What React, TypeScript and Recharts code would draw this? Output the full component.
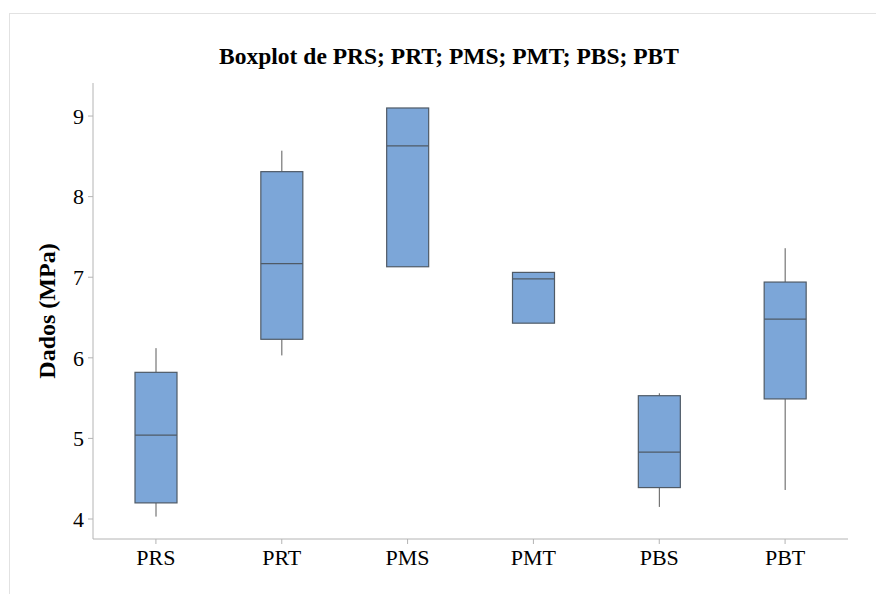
import { Bar, ComposedChart, XAxis, YAxis } from "recharts";

const categories = ["PRS", "PRT", "PMS", "PMT", "PBS", "PBT"];
const minValues = [4.03, 6.03, 7.13, 6.43, 4.15, 4.36];
const q1Values = [4.2, 6.23, 7.13, 6.43, 4.39, 5.49];
const medianValues = [5.04, 7.17, 8.63, 6.98, 4.83, 6.48];
const q3Values = [5.82, 8.31, 9.1, 7.06, 5.53, 6.94];
const maxValues = [6.12, 8.57, 9.1, 7.06, 5.56, 7.36];
const yTicks = [4, 5, 6, 7, 8, 9];

const data = categories.map((name, i) => ({
  name,
  min: minValues[i],
  q1: q1Values[i],
  median: medianValues[i],
  q3: q3Values[i],
  max: maxValues[i],
}));

const FONT = "'Liberation Serif', 'Times New Roman', serif";
const FRAME = "#b4b4b4";

const BoxShape = (props: any) => {
  const { x, y, width, height, payload } = props;
  const top = Math.min(y, y + height);
  const h = Math.abs(height);
  const ppu = h / (payload.q3 - payload.q1 || 1);
  const cx = x + width / 2;
  const yMax = top - (payload.max - payload.q3) * ppu;
  const yMin = top + h + (payload.q1 - payload.min) * ppu;
  const yMed = top + (payload.q3 - payload.median) * ppu;
  return (
    <g>
      <line x1={cx} x2={cx} y1={yMax} y2={top} stroke="#5a5a5a" strokeWidth={1} />
      <line x1={cx} x2={cx} y1={top + h} y2={yMin} stroke="#5a5a5a" strokeWidth={1} />
      <rect x={x} y={top} width={width} height={h} fill="#7ca6d8" stroke="#4f5a66" strokeWidth={1.2} />
      <line x1={x} x2={x + width} y1={yMed} y2={yMed} stroke="#4f5a66" strokeWidth={1.2} />
    </g>
  );
};

export default function App() {
  return (
    <div style={{ position: "absolute", left: 0, top: 0, width: 876, height: 594, background: "#fff" }}>
      <div
        style={{
          position: "absolute",
          left: 9,
          top: 13,
          right: 0,
          bottom: 0,
          borderTop: "1px solid #e2e2e2",
          borderLeft: "1px solid #e2e2e2",
        }}
      />
      <div
        style={{
          position: "absolute",
          left: 0,
          width: 898,
          top: 41,
          textAlign: "center",
          fontFamily: FONT,
          fontWeight: "bold",
          fontSize: 23.5,
          lineHeight: "30px",
          color: "#000",
        }}
      >
        Boxplot de PRS; PRT; PMS; PMT; PBS; PBT
      </div>
      <div
        style={{
          position: "absolute",
          left: 47 - 100,
          top: 311 - 15,
          width: 200,
          height: 30,
          lineHeight: "30px",
          textAlign: "center",
          transform: "rotate(-90deg)",
          fontFamily: FONT,
          fontWeight: "bold",
          fontSize: 24,
          color: "#000",
          whiteSpace: "nowrap",
        }}
      >
        Dados (MPa)
      </div>
      <ComposedChart
        width={876}
        height={594}
        data={data}
        margin={{ top: 83, right: 28, bottom: 0, left: 0 }}
        style={{ position: "absolute", left: 0, top: 0 }}
      >
        <XAxis
          dataKey="name"
          height={55}
          axisLine={{ stroke: FRAME }}
          tickLine={{ stroke: FRAME }}
          tickSize={5}
          tickMargin={5}
          tick={{ fill: "#000", fontSize: 22, fontFamily: FONT }}
        />
        <XAxis xAxisId="top" dataKey="name" orientation="top" height={0} tick={false} tickLine={false} axisLine={{ stroke: FRAME }} />
        <YAxis
          width={93}
          domain={[3.752, 9.41]}
          allowDataOverflow
          ticks={yTicks}
          axisLine={{ stroke: FRAME }}
          tickLine={{ stroke: FRAME }}
          tickSize={5}
          tickMargin={4}
          tick={{ fill: "#000", fontSize: 22, fontFamily: FONT }}
        />
        <YAxis yAxisId="right" orientation="right" width={0} tick={false} tickLine={false} axisLine={{ stroke: FRAME }} />
        <Bar
          dataKey={(d: any) => [d.q1, d.q3]}
          barSize={42}
          shape={BoxShape}
          isAnimationActive={false}
        />
      </ComposedChart>
    </div>
  );
}
